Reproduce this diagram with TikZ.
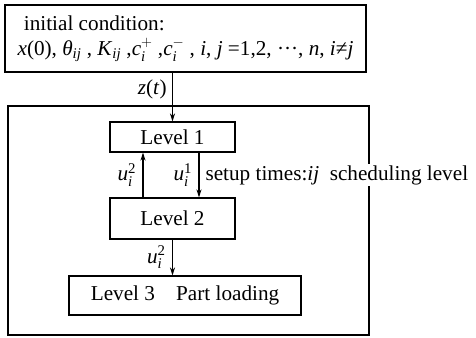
\documentclass[tikz,border=0pt]{standalone}
\usepackage{amsmath}
\usepackage{fontspec}
\setmainfont{Liberation Serif}
\usetikzlibrary{arrows.meta}
\newcommand{\vi}[1]{\textit{#1}}

\begin{document}
\begin{tikzpicture}[x=1pt,y=-1pt,font=\fontsize{21.2}{25}\selectfont,line width=1.1pt,
  >={Stealth[length=8pt,width=5pt]},
  box/.style={draw, inner sep=0pt}]
\useasboundingbox (0,0) rectangle (476,337);
\node[box, minimum width=361pt, minimum height=67pt, align=left](init) at (185.5,38.5){\hspace*{0.3em}initial condition:\\
  \vi{x}(0), \vi{θ}\textsubscript{\vi{ij}} , \vi{K}\textsubscript{\vi{ij}} ,$\vi{c}_{\vi{i}}^{+}$ ,$\vi{c}_{\vi{i}}^{-}$ , \vi{i}, \vi{j} =1,2, ···, \vi{n}, \vi{i}≠\vi{j}};
\node[box, minimum width=361pt, minimum height=229pt](sys) at (188.5,220.5){};
\node[box, minimum width=125pt, minimum height=30pt](l1) at (172.5,137){Level 1};
\node[box, minimum width=125pt, minimum height=41pt](l2) at (172.5,218.5){Level 2};
\node[box, minimum width=232pt, minimum height=39pt](l3) at (185,295.5){Level 3\quad Part loading};
\draw[->] (l1.north |- init.south) -- (l1.north) node[pos=0.35,left=2pt]{\vi{z}(\vi{t})};
\draw[->] ([xshift=-29.5pt]l2.north) -- ([xshift=-29.5pt]l1.south) node[midway,left=3pt]{$\vi{u}_{\vi{i}}^{\text{2}}$};
\draw[->] ([xshift=26.5pt]l1.south) -- ([xshift=26.5pt]l2.north) node[midway,left=3pt]{$\vi{u}_{\vi{i}}^{\text{1}}$}
  node[midway,right,fill=white,inner sep=1pt,xshift=5pt]{setup times:\vi{ij}\ \ scheduling level};
\draw[->] (l2.south) -- (l2.south |- l3.north) node[midway,left=3pt]{$\vi{u}_{\vi{i}}^{\text{2}}$};
\end{tikzpicture}
\end{document}
